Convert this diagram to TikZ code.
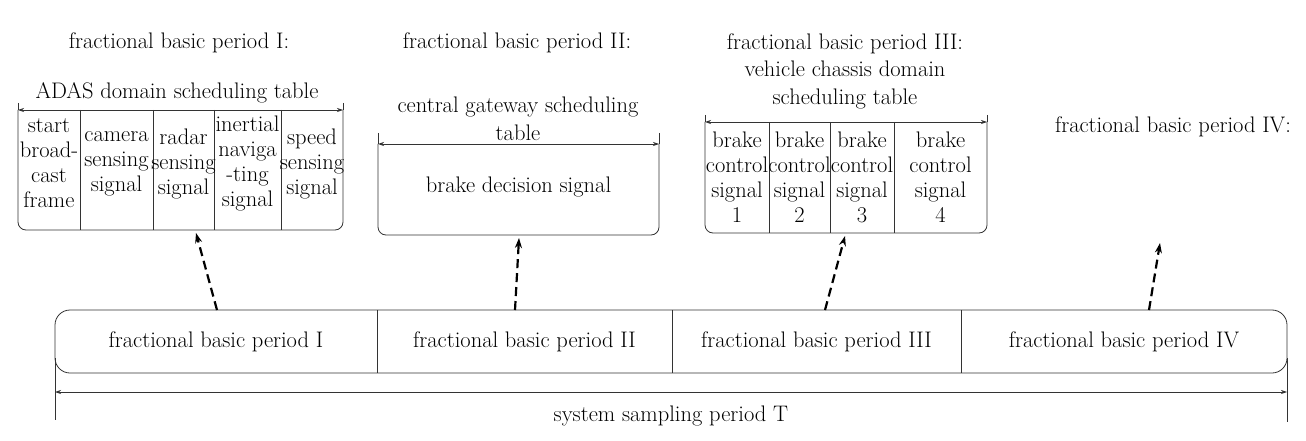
\documentclass[tikz,border=0pt]{standalone}
\usetikzlibrary{arrows.meta}

\tikzset{
  txt/.style={font=\rmfamily\fontsize{22.5}{25}\selectfont, align=center, inner sep=0pt},
  widetxt/.style={txt, font=\rmfamily\fontsize{22.5}{27.5}\selectfont},
  frameline/.style={line width=0.8pt, black!80},
  dimline/.style={line width=0.7pt, black!80, {Stealth[length=6pt,width=4pt]}-{Stealth[length=6pt,width=4pt]}},
  linkarrow/.style={line width=2.2pt, dash pattern=on 9pt off 5pt, -{Stealth[length=10pt,width=7pt]}},
}

\begin{document}
\begin{tikzpicture}[x=1pt,y=-1pt]
	\useasboundingbox (0,0) rectangle (1306,441);
	% 分数基本周期 I：ADAS 域调度表
	\node[txt] (title1) at (179,43) {fractional basic period I:};
	\node[txt] (adas) at (177,93) {ADAS domain scheduling table};
	\draw[frameline, rounded corners=8pt] (18,110) -- (18,230) -- (343,230) -- (343,110);
	\draw[frameline] (18,103) -- (18,110) (343,103) -- (343,110);
	\draw[dimline] (18,110) -- (343,110);
	\foreach \x in {80,153,214,281} \draw[frameline] (\x,110) -- (\x,230);
	\node[txt] (a1) at (49,163) {start\\broad-\\cast\\frame};
	\node[txt] (a2) at (116.5,164) {camera\\sensing\\signal};
	\node[txt] (a3) at (183.5,164) {radar\\sensing\\signal};
	\node[txt] (a4) at (247.5,163) {inertial\\naviga\\-ting\\signal};
	\node[txt] (a5) at (312,164) {speed\\sensing\\signal};
	
	% 分数基本周期 II：中央网关调度表
	\node[txt] (title2) at (517,43) {fractional basic period II:};
	\node[widetxt] (gw) at (518,119) {central gateway scheduling\\table};
	\draw[frameline, rounded corners=8pt] (378,144) -- (378,235) -- (659,235) -- (659,144);
	\draw[frameline] (378,133) -- (378,144) (659,133) -- (659,144);
	\draw[dimline] (378,144) -- (659,144);
	\node[txt] (g1) at (518.5,187) {brake decision signal};
	
	% 分数基本周期 III：整车底盘域调度表
	\node[widetxt] (title3) at (845,71) {fractional basic period III:\\vehicle chassis domain\\scheduling table};
	\draw[frameline, rounded corners=8pt] (705,122) -- (705,233) -- (987,233) -- (987,122);
	\draw[frameline] (705,115) -- (705,122) (987,115) -- (987,122);
	\draw[dimline] (705,122) -- (987,122);
	\foreach \x in {769,830,894} \draw[frameline] (\x,122) -- (\x,233);
	\node[txt] (c1) at (737,177) {brake\\control\\signal\\1};
	\node[txt] (c2) at (799.5,177) {brake\\control\\signal\\2};
	\node[txt] (c3) at (862,177) {brake\\control\\signal\\3};
	\node[txt] (c4) at (940.5,177) {brake\\control\\signal\\4};
	
	% 分数基本周期 IV
	\node[txt] (title4) at (1173,127) {fractional basic period IV:};
	
	% 系统采样周期 T
	\draw[frameline, rounded corners=15pt] (55,310) rectangle (1287,373);
	\foreach \x in {377,672,961} \draw[frameline] (\x,310) -- (\x,373);
	\node[txt] (p1) at (216,342) {fractional basic period I};
	\node[txt] (p2) at (524.5,342) {fractional basic period II};
	\node[txt] (p3) at (816.5,342) {fractional basic period III};
	\node[txt] (p4) at (1124,342) {fractional basic period IV};
	\draw[frameline] (55,358) -- (55,420) (1287,358) -- (1287,422);
	\draw[dimline] (55,392) -- (1287,392);
	\node[txt] (sys) at (671,416) {system sampling period T};
	
	% 虚线箭头
	\coordinate (s1) at (217,310);
	\coordinate (e1) at (196,233);
	\coordinate (s2) at (515,310);
	\coordinate (e2) at (519,238);
	\coordinate (s3) at (825,310);
	\coordinate (e3) at (845,236);
	\coordinate (s4) at (1149,310);
	\coordinate (e4) at (1160,243);
	\draw[linkarrow] (s1) -- (e1);
	\draw[linkarrow] (s2) -- (e2);
	\draw[linkarrow] (s3) -- (e3);
	\draw[linkarrow] (s4) -- (e4);
\end{tikzpicture}
\end{document}
